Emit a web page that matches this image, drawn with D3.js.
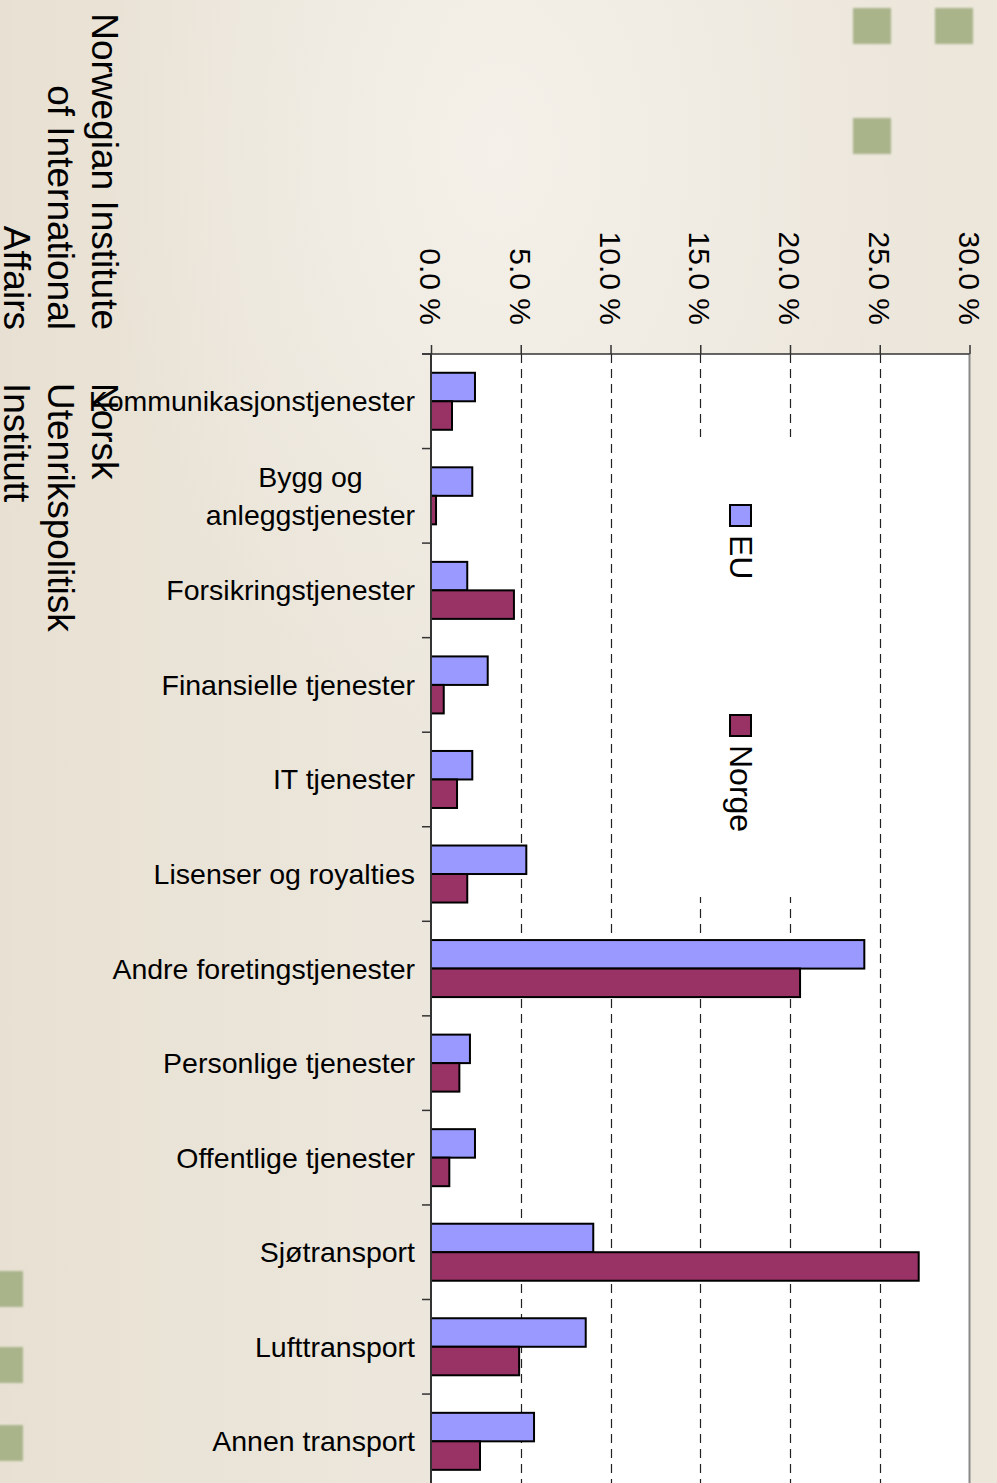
<!DOCTYPE html>
<html>
<head>
<meta charset="utf-8">
<script src="https://cdn.jsdelivr.net/npm/d3@7"></script>
<style>
  html, body { margin: 0; padding: 0; }
  body { width: 997px; height: 1483px; overflow: hidden; }
  text { font-family: "Liberation Sans", Arial, sans-serif; fill: #000; }
</style>
</head>
<body>
<div id="chart"></div>
<script>
// chart data
var categories = [
    ["Kommunikasjonstjenester"],
    ["Bygg og", "anleggstjenester"],
    ["Forsikringstjenester"],
    ["Finansielle tjenester"],
    ["IT tjenester"],
    ["Lisenser og royalties"],
    ["Andre foretingstjenester"],
    ["Personlige tjenester"],
    ["Offentlige tjenester"],
    ["Sjøtransport"],
    ["Lufttransport"],
    ["Annen transport"]
];
var euValues    = [2.45, 2.3, 2.02, 3.16, 2.3, 5.31, 24.14, 2.17, 2.45, 9.04, 8.62, 5.74];
var norgeValues = [1.17, 0.28, 4.62, 0.71, 1.45, 2.02, 20.56, 1.58, 1.02, 27.17, 4.91, 2.73];
var seriesNames = ["EU", "Norge"];
var seriesColors = ["#9999ff", "#993366"];
var tickValues = [0, 5, 10, 15, 20, 25, 30];
var titleEn = ["Norwegian Institute", "of International", "Affairs"];
var titleNo = ["Norsk", "Utenrikspolitisk", "Institutt"];

var W = 997, H = 1483;
var svg = d3.select("#chart").append("svg")
    .attr("width", W).attr("height", H);

// slide background
var defs = svg.append("defs");
var lg = defs.append("linearGradient").attr("id", "bg")
    .attr("x1", 0).attr("y1", 0).attr("x2", 1).attr("y2", 0);
lg.append("stop").attr("offset", "0%").attr("stop-color", "#e8e1d3");
lg.append("stop").attr("offset", "50%").attr("stop-color", "#ede8de");
lg.append("stop").attr("offset", "100%").attr("stop-color", "#ece6db");
var rg = defs.append("radialGradient").attr("id", "glow")
    .attr("cx", 0.5).attr("cy", 0.1).attr("r", 0.4);
rg.append("stop").attr("offset", "0%").attr("stop-color", "#f5f2eb").attr("stop-opacity", 0.85);
rg.append("stop").attr("offset", "100%").attr("stop-color", "#f5f2eb").attr("stop-opacity", 0);
defs.append("filter").attr("id", "soft")
    .append("feGaussianBlur").attr("stdDeviation", 0.8);

svg.append("rect").attr("width", W).attr("height", H).attr("fill", "url(#bg)");
svg.append("rect").attr("width", W).attr("height", H).attr("fill", "url(#glow)");

// decorative green squares
var squares = [[853, 8], [935, 8], [853, 118], [-15, 1271], [-15, 1347], [-15, 1425]];
svg.selectAll("rect.deco").data(squares).enter().append("rect")
    .attr("class", "deco")
    .attr("x", function(d) { return d[0]; })
    .attr("y", function(d) { return d[1]; })
    .attr("width", 38).attr("height", 36)
    .attr("fill", "#a9b48b")
    .attr("filter", "url(#soft)");

// institute name, rotated
function rotatedLines(lines, x, y, anchor) {
    var t = svg.append("text")
        .attr("transform", "translate(" + x + "," + y + ") rotate(90)")
        .attr("text-anchor", anchor)
        .style("font-size", "37px");
    lines.forEach(function(l, i) {
        t.append("tspan").attr("x", 0).attr("y", i * 44).text(l);
    });
}
rotatedLines(titleEn, 92, 330, "end");
rotatedLines(titleNo, 92, 383, "start");

// scales
var plotLeft = 431, plotRight = 969.5, plotTop = 354;
var step = 94.55;
var x = d3.scaleLinear().domain([0, 30]).range([plotLeft, plotRight]);
var y0 = d3.scaleBand()
    .domain(d3.range(categories.length))
    .range([plotTop, plotTop + step * categories.length])
    .paddingInner(0.397).paddingOuter(0.397 / 2);
var y1 = d3.scaleBand().domain(seriesNames).range([0, y0.bandwidth()]);

// plot area
svg.append("rect")
    .attr("x", plotLeft).attr("y", plotTop)
    .attr("width", plotRight - plotLeft).attr("height", H - plotTop + 10)
    .attr("fill", "#fff");

// dashed gridlines
svg.selectAll("line.grid").data(tickValues.slice(1, -1)).enter().append("line")
    .attr("class", "grid")
    .attr("x1", function(d) { return Math.round(x(d)) + 0.5; })
    .attr("x2", function(d) { return Math.round(x(d)) + 0.5; })
    .attr("y1", plotTop).attr("y2", H + 10)
    .attr("stroke", "#222").attr("stroke-width", 1.2)
    .attr("stroke-dasharray", "9,6");

// legend box (white, hides gridlines behind)
var legend = svg.append("g");
legend.append("rect")
    .attr("x", 650).attr("y", 437).attr("width", 200).attr("height", 460)
    .attr("fill", "#fff");
var legendY = [505, 715];
seriesNames.forEach(function(s, i) {
    legend.append("rect")
        .attr("x", 730).attr("y", legendY[i]).attr("width", 21).attr("height", 21)
        .attr("fill", seriesColors[i]).attr("stroke", "#000").attr("stroke-width", 2);
    legend.append("text")
        .attr("transform", "translate(730," + (legendY[i] + 30) + ") rotate(90)")
        .style("font-size", "32px")
        .text(s);
});

// bars
var rows = categories.map(function(c, i) {
    return { i: i, values: [euValues[i], norgeValues[i]] };
});
var groups = svg.selectAll("g.cat").data(rows).enter().append("g")
    .attr("class", "cat")
    .attr("transform", function(d) { return "translate(0," + y0(d.i) + ")"; });
groups.selectAll("rect").data(function(d) {
    return d.values.map(function(v, k) { return { name: seriesNames[k], value: v, k: k }; });
}).enter().append("rect")
    .attr("x", x(0))
    .attr("y", function(d) { return y1(d.name); })
    .attr("width", function(d) { return x(d.value) - x(0); })
    .attr("height", y1.bandwidth())
    .attr("fill", function(d) { return seriesColors[d.k]; })
    .attr("stroke", "#000").attr("stroke-width", 2);

// right border of plot
svg.append("line")
    .attr("x1", plotRight).attr("x2", plotRight)
    .attr("y1", plotTop).attr("y2", H + 10)
    .attr("stroke", "#8a8a8a").attr("stroke-width", 2);

// value axis along the top
var xAxis = svg.append("g").attr("transform", "translate(0," + plotTop + ")")
    .call(d3.axisTop(x).tickValues(tickValues).tickSize(9).tickFormat(""));
xAxis.select(".domain").attr("stroke", "#333").attr("stroke-width", 1.5)
    .attr("d", "M" + (plotLeft - 9) + ",0H" + plotRight);
xAxis.selectAll(".tick line").attr("stroke", "#333").attr("stroke-width", 1.5);

svg.selectAll("text.tickLabel").data(tickValues).enter().append("text")
    .attr("class", "tickLabel")
    .attr("transform", function(d) { return "translate(" + (x(d) - 11) + ",325) rotate(90)"; })
    .attr("text-anchor", "end")
    .style("font-size", "30px")
    .text(function(d) { return d.toFixed(1) + " %"; });

// category axis on the left
svg.append("line")
    .attr("x1", plotLeft).attr("x2", plotLeft)
    .attr("y1", plotTop).attr("y2", H + 10)
    .attr("stroke", "#333").attr("stroke-width", 2);
svg.selectAll("line.catTick").data(d3.range(categories.length + 1)).enter().append("line")
    .attr("class", "catTick")
    .attr("x1", plotLeft - 9).attr("x2", plotLeft)
    .attr("y1", function(i) { return plotTop + i * y0.step(); })
    .attr("y2", function(i) { return plotTop + i * y0.step(); })
    .attr("stroke", "#333").attr("stroke-width", 1.5);

var labelRight = 415, lineH = 38;
categories.forEach(function(lines, i) {
    var cy = y0(i) + y0.bandwidth() / 2;
    var t = svg.append("text").style("font-size", "28.5px");
    var spans = lines.map(function(l, k) {
        return t.append("tspan").attr("y", cy + 10 + (k - (lines.length - 1) / 2) * lineH).text(l);
    });
    if (lines.length === 1) {
        t.attr("text-anchor", "end");
        spans[0].attr("x", labelRight);
    } else {
        var maxW = d3.max(spans, function(s) { return s.node().getComputedTextLength(); });
        t.attr("text-anchor", "middle");
        spans.forEach(function(s) { s.attr("x", labelRight - maxW / 2); });
    }
});
</script>
</body>
</html>
